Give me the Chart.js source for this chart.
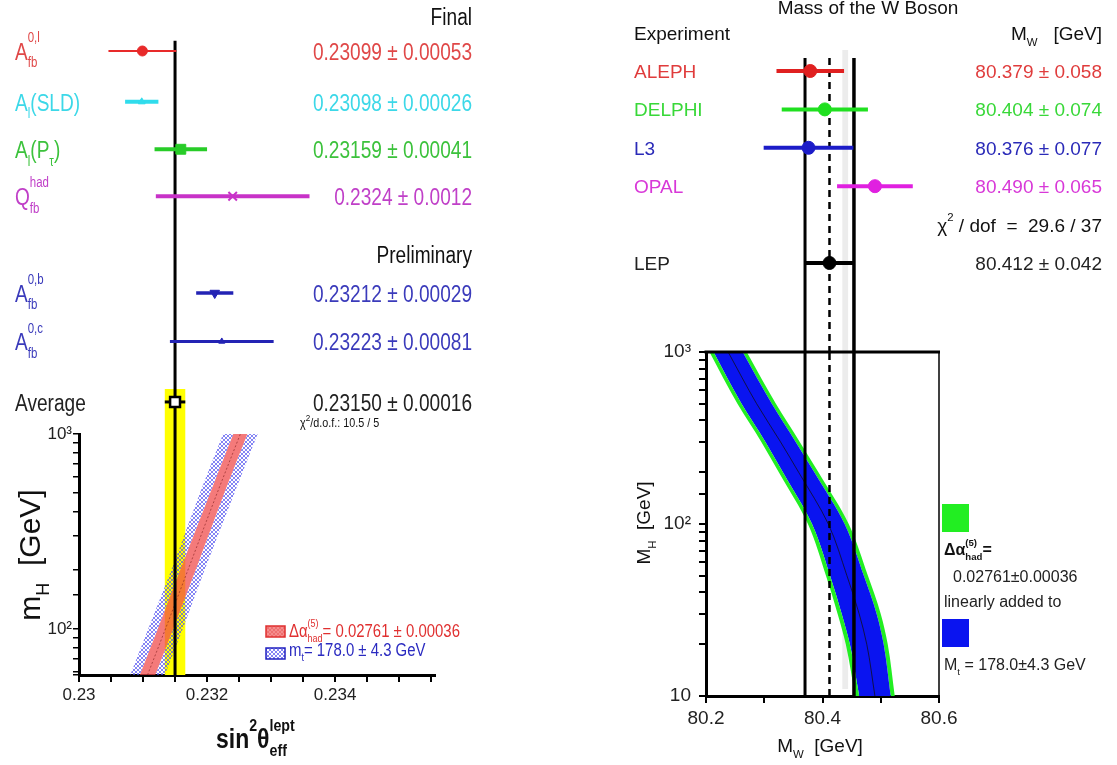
<!DOCTYPE html>
<html>
<head>
<meta charset="utf-8">
<title>sin2theta_eff and W mass</title>
<script src="https://cdn.jsdelivr.net/npm/chart.js@4/dist/chart.umd.min.js"></script>
<style>
  html, body { margin: 0; padding: 0; background: #fff; }
  #page { position: relative; width: 1117px; height: 765px; overflow: hidden; }
  #page canvas { position: absolute; }
</style>
</head>
<body>
<div id="page">
  <canvas id="sinTop" width="480" height="434" style="left:0px;top:0px"></canvas>
  <canvas id="sinBand" width="480" height="365" style="left:0px;top:400px"></canvas>
  <canvas id="mwTop" width="517" height="352" style="left:600px;top:0px"></canvas>
  <canvas id="mwBand" width="517" height="435" style="left:600px;top:330px"></canvas>
</div>
<script>
// --- sin^2 theta_eff^lept measurements ---
const sinLabels = ['A_{fb}^{0,l}', 'A_{l}(SLD)', 'A_{l}(P_{τ})', 'Q_{fb}^{had}', 'A_{fb}^{0,b}', 'A_{fb}^{0,c}', 'Average'];
const sinValues = [0.23099, 0.23098, 0.23159, 0.2324, 0.23212, 0.23223, 0.23150];
const sinErrors = [0.00053, 0.00026, 0.00041, 0.0012, 0.00029, 0.00081, 0.00016];
const sinDigits = [5, 5, 5, 4, 5, 5, 5];
const sinChi2 = [10.5, 5];
const sinTicks = [0.23, 0.232, 0.234];

// SM prediction band, m_H vs sin^2 theta
const bandMh = [58, 100, 200, 500, 1000];
const bandSin = [0.23107, 0.23135, 0.23170, 0.23216, 0.23252];
const bandAlphaHalf = [0.00012, 0.00012, 0.00012, 0.00011, 0.00011];
const bandTopHalf = [0.00027, 0.00027, 0.00026, 0.00027, 0.00027];
const deltaAlpha = [0.02761, 0.00036];
const mTop = [178.0, 4.3];

// --- W mass ---
const mwLabels = ['ALEPH', 'DELPHI', 'L3', 'OPAL', 'LEP'];
const mwValues = [80.379, 80.404, 80.376, 80.490, 80.412];
const mwErrors = [0.058, 0.074, 0.077, 0.065, 0.042];
const mwChi2 = [29.6, 37];
const mwTicks = [80.2, 80.4, 80.6];
const mwShade = [80.434, 80.444];

const mwBandMh = [10, 20, 30, 50, 100, 200, 300, 500, 1000];
const mwBandCenter = [80.490, 80.476, 80.463, 80.442, 80.410, 80.359, 80.328, 80.287, 80.238];
const mwBandBlueHalf = [0.027, 0.029, 0.030, 0.029, 0.028, 0.027, 0.026, 0.026, 0.025];
const mwBandGreenHalf = [0.034, 0.036, 0.037, 0.036, 0.035, 0.034, 0.033, 0.033, 0.032];

// --- styles / layout ---
const FL = '"Liberation Sans", Arial, sans-serif';
const FR = '"Liberation Sans", Arial, sans-serif';
const NARROW = 0.83;
const sinColors = ['#e82a2a', '#30dcec', '#28cc28', '#c832c8', '#2323b4', '#2323b4', '#000000'];
const sinText = ['#e04848', '#3cd8e8', '#3cc23c', '#c040c8', '#3b3bbb', '#3b3bbb', '#222222'];
const sinBarW = [2, 4, 4, 4, 3.5, 3, 3];
const mwColors = ['#e02020', '#20e020', '#1c1cc8', '#e020e0', '#000000'];
const mwText = ['#e03c3c', '#38d838', '#2a2ab8', '#d838d8', '#222222'];
const MW_GREEN = '#22ee22';
const MW_BLUE = '#0a14f0';

const L = { rows: [1, 2.05, 3.03, 4, 6, 7, 8.25], rowMin: -0.0535, rowMax: 8.912, lineTopRow: 0.79, bandTopRow: 7.98 };
const R = { rows: [1, 2, 3, 4, 6], chiRow: 5, rowMin: -0.849, rowMax: 8.318, lineTopRow: 0.66, shadeTopRow: 0.45 };

// --- rich text (sub/superscripts) ---
function parseRich(s) {
  const parts = []; let buf = ''; let i = 0;
  while (i < s.length) {
    const c = s[i];
    if ((c === '_' || c === '^') && s[i + 1] === '{') {
      if (buf) { parts.push({ t: buf, m: 'n' }); buf = ''; }
      const j = s.indexOf('}', i);
      parts.push({ t: s.slice(i + 2, j), m: c === '_' ? 'sub' : 'sup' });
      i = j + 1;
    } else { buf += c; i++; }
  }
  if (buf) parts.push({ t: buf, m: 'n' });
  return parts;
}

function drawRich(ctx, s, x, y, o) {
  const size = o.size, scr = o.scr || 0.6, sx = o.sx || 1;
  const supDy = (o.supDy !== undefined ? o.supDy : -0.62) * size;
  const subDy = (o.subDy !== undefined ? o.subDy : 0.3) * size;
  const items = []; let cx = 0; let prev = null;
  ctx.save();
  for (const p of parseRich(s)) {
    const fs = p.m === 'n' ? size : size * scr;
    const font = `${o.weight || 'normal'} ${fs}px ${o.family}`;
    ctx.font = font;
    const w = ctx.measureText(p.t).width * sx;
    let px = cx;
    let stacked = false;
    if (prev && prev.m !== 'n' && p.m !== 'n' && prev.m !== p.m && !prev.stacked) {
      px = prev.x; stacked = true; cx = Math.max(prev.x + prev.w, px + w);
    } else { cx = px + w; }
    const it = { t: p.t, m: p.m, x: px, w, font, stacked, dy: p.m === 'sub' ? subDy : p.m === 'sup' ? supDy : 0 };
    items.push(it); prev = it;
  }
  let x0 = x;
  if (o.align === 'right') x0 = x - cx; else if (o.align === 'center') x0 = x - cx / 2;
  ctx.fillStyle = o.color || '#000';
  ctx.textAlign = 'left'; ctx.textBaseline = 'alphabetic';
  for (const it of items) {
    ctx.save();
    ctx.translate(x0 + it.x, y + it.dy); ctx.scale(sx, 1);
    ctx.font = it.font; ctx.fillText(it.t, 0, 0);
    ctx.restore();
  }
  ctx.restore();
}

function makeHatch(line, bg) {
  const c = document.createElement('canvas'); c.width = 4; c.height = 4;
  const g = c.getContext('2d');
  if (bg) { g.fillStyle = bg; g.fillRect(0, 0, 4, 4); }
  g.strokeStyle = line; g.lineWidth = 1;
  g.beginPath(); g.moveTo(0, 0); g.lineTo(4, 4); g.moveTo(4, 0); g.lineTo(0, 4); g.stroke();
  return g.createPattern(c, 'repeat');
}
const hatchBlue = makeHatch('rgba(80,80,240,0.7)', null);
const hatchRed = makeHatch('rgba(225,60,60,0.35)', 'rgba(240,80,80,0.65)');

function vSeg(x, y0, y1, o) {
  return Object.assign({ data: [{ x, y: y0 }, { x, y: y1 }], borderColor: '#000', borderWidth: 3, pointRadius: 0, fill: false }, o);
}
function edge(xs, ys, o) {
  return Object.assign({ data: xs.map((x, i) => ({ x, y: ys[i] })), borderColor: 'rgba(0,0,0,0)', borderWidth: 1, pointRadius: 0, fill: false, cubicInterpolationMode: 'monotone' }, o);
}
const noPlugins = { legend: { display: false }, tooltip: { enabled: false } };

function rowOptions(xmin, xmax, ymin, ymax, left, right) {
  return {
    responsive: false, animation: false, indexAxis: 'y',
    layout: { autoPadding: false, padding: { left, right, top: 0, bottom: 0 } },
    scales: {
      x: { type: 'linear', min: xmin, max: xmax, display: false },
      y: { type: 'linear', min: ymin, max: ymax, reverse: true, display: false }
    },
    plugins: noPlugins
  };
}

function pickTick(list, v) {
  const t = list.find(t => Math.abs(t - v) < 1e-7);
  return t === undefined ? '' : String(t);
}
function powLabel(v) {
  if (Math.abs(v - 10) < 1e-6) return '10';
  if (Math.abs(v - 100) < 1e-6) return '10²';
  if (Math.abs(v - 1000) < 1e-6) return '10³';
  return '';
}

// ===== left: sin^2 theta measurements =====
const sinAvg = sinValues[6], sinAvgErr = sinErrors[6];

const sinTopText = {
  id: 'sinTopText',
  afterDraw(chart) {
    const ctx = chart.ctx, ys = chart.scales.y;
    const base = { size: 23, family: FL, color: '#111', sx: NARROW };
    drawRich(ctx, 'Final', 472, 25, Object.assign({}, base, { align: 'right' }));
    drawRich(ctx, 'Preliminary', 472, 263, Object.assign({}, base, { align: 'right' }));
    sinLabels.forEach((lab, i) => {
      const y = ys.getPixelForValue(L.rows[i]) + 9;
      drawRich(ctx, lab, 15, y, Object.assign({}, base, { color: sinText[i], supDy: -0.78, subDy: 0.32 }));
      const d = sinDigits[i];
      drawRich(ctx, `${sinValues[i].toFixed(d)} ± ${sinErrors[i].toFixed(d)}`, 472, y, Object.assign({}, base, { color: sinText[i], align: 'right' }));
    });
    drawRich(ctx, `χ^{2}/d.o.f.: ${sinChi2[0]} / ${sinChi2[1]}`, 300, 427, { size: 13, family: FL, color: '#111', supDy: -0.5, scr: 0.75, sx: NARROW });
  }
};

new Chart(document.getElementById('sinTop'), {
  type: 'line',
  data: {
    datasets: [
      vSeg(sinAvg - sinAvgErr, L.bandTopRow, L.rowMax, { borderColor: 'rgba(0,0,0,0)', borderWidth: 1, fill: '+1', backgroundColor: '#ffff00', order: 20 }),
      vSeg(sinAvg + sinAvgErr, L.bandTopRow, L.rowMax, { borderColor: 'rgba(0,0,0,0)', borderWidth: 1, order: 20 }),
      vSeg(sinAvg, L.lineTopRow, L.rowMax, { borderWidth: 3, order: 2 }),
      ...sinValues.map((v, i) => ({
        data: [{ x: v - sinErrors[i], y: L.rows[i] }, { x: v + sinErrors[i], y: L.rows[i] }],
        borderColor: sinColors[i], borderWidth: sinBarW[i], pointRadius: 0, fill: false, order: 1
      })),
      {
        data: sinValues.map((v, i) => ({ x: v, y: L.rows[i] })),
        showLine: false,
        pointStyle: ['circle', 'triangle', 'rect', 'crossRot', 'triangle', 'triangle', 'rect'],
        pointRadius: [5, 4, 7, 6, 5.5, 3.5, 7],
        pointRotation: [0, 0, 0, 0, 180, 0, 0],
        pointBackgroundColor: sinColors.map((c, i) => i === 6 ? '#ffffff' : c),
        pointBorderColor: sinColors,
        pointBorderWidth: [1, 1, 1, 2, 1, 1, 2.5],
        order: 0
      }
    ]
  },
  options: rowOptions(0.23, 0.23556, L.rowMin, L.rowMax, 79, 45),
  plugins: [sinTopText]
});

// ===== left: m_H vs sin^2 theta band =====
const sinEdges = [
  bandSin.map((c, i) => c - bandTopHalf[i]),
  bandSin.map((c, i) => c - bandAlphaHalf[i]),
  bandSin.map((c, i) => c + bandAlphaHalf[i]),
  bandSin.map((c, i) => c + bandTopHalf[i])
];

function legendBox(ctx, x, y, w, h, fill, stroke) {
  ctx.save();
  ctx.fillStyle = fill; ctx.fillRect(x, y, w, h);
  ctx.strokeStyle = stroke; ctx.lineWidth = 1.5; ctx.strokeRect(x, y, w, h);
  ctx.restore();
}

const sinBandText = {
  id: 'sinBandText',
  afterDraw(chart) {
    const ctx = chart.ctx;
    drawRich(ctx, 'sin^{2}θ_{eff}^{lept}', 216, 348, { size: 28, family: FL, weight: 'bold', color: '#111', supDy: -0.6, subDy: 0.3, scr: 0.62, sx: 0.82 });
    ctx.save(); ctx.translate(40, 155); ctx.rotate(-Math.PI / 2);
    drawRich(ctx, 'm_{H}  [GeV]', 0, 0, { size: 30, family: FR, color: '#111', align: 'center', subDy: 0.3 });
    ctx.restore();
    legendBox(ctx, 266, 226, 19, 11, hatchRed, '#e03030');
    drawRich(ctx, `Δα_{had}^{(5)}= ${deltaAlpha[0].toFixed(5)} ± ${deltaAlpha[1].toFixed(5)}`, 289, 237, { size: 18, family: FL, color: '#e03030', supDy: -0.55, sx: NARROW });
    legendBox(ctx, 266, 248, 19, 11, hatchBlue, '#2020c0');
    drawRich(ctx, `m_{t}= ${mTop[0].toFixed(1)} ± ${mTop[1].toFixed(1)} GeV`, 289, 256, { size: 18, family: FL, color: '#2a2ac0', sx: NARROW });
  }
};

new Chart(document.getElementById('sinBand'), {
  type: 'line',
  data: {
    datasets: [
      vSeg(sinAvg - sinAvgErr, bandMh[0], 1000, { borderColor: 'rgba(0,0,0,0)', borderWidth: 1, fill: '+1', backgroundColor: '#ffff00', order: 20 }),
      vSeg(sinAvg + sinAvgErr, bandMh[0], 1000, { borderColor: 'rgba(0,0,0,0)', borderWidth: 1, order: 20 }),
      edge(sinEdges[0], bandMh, { fill: '+1', backgroundColor: hatchBlue, order: 10 }),
      edge(sinEdges[1], bandMh, { fill: '+1', backgroundColor: 'rgba(240,70,70,0.72)', order: 10 }),
      edge(sinEdges[2], bandMh, { fill: '+1', backgroundColor: hatchBlue, order: 10 }),
      edge(sinEdges[3], bandMh, { order: 10 }),
      edge(bandSin, bandMh, { borderColor: 'rgba(130,30,30,0.6)', borderWidth: 1, borderDash: [2, 2], order: 5 }),
      vSeg(sinAvg, bandMh[0], 1000, { borderWidth: 3, order: 2 })
    ]
  },
  options: {
    responsive: false, animation: false, indexAxis: 'y',
    layout: { autoPadding: false, padding: { left: 0, right: 45, top: 34, bottom: 0 } },
    scales: {
      x: {
        type: 'linear', min: 0.23, max: 0.23556,
        border: { display: true, color: '#000', width: 3 },
        grid: { drawOnChartArea: false, drawTicks: true, tickLength: 7, color: '#000', lineWidth: 2 },
        ticks: { stepSize: 0.0005, includeBounds: false, autoSkip: false, maxRotation: 0, padding: 3, color: '#222', font: { family: FL, size: 17 }, callback: v => pickTick(sinTicks, v) },
        afterFit: s => { s.height = 90; }
      },
      y: {
        type: 'logarithmic', min: bandMh[0], max: 1000,
        border: { display: true, color: '#000', width: 3 },
        grid: { drawOnChartArea: false, drawTicks: true, tickLength: 6, color: '#000', lineWidth: 1.5 },
        ticks: { autoSkip: false, padding: 1, color: '#222', font: { family: FL, size: 17 }, callback: v => powLabel(v) },
        afterFit: s => { s.width = 79; }
      }
    },
    plugins: noPlugins
  },
  plugins: [sinBandText]
});

// ===== right: W mass measurements =====
const mwAvg = mwValues[4], mwAvgErr = mwErrors[4];

const mwTopText = {
  id: 'mwTopText',
  afterDraw(chart) {
    const ctx = chart.ctx, ys = chart.scales.y;
    const base = { size: 19, family: FR, color: '#111' };
    drawRich(ctx, 'Mass of the W Boson', 268, 14, Object.assign({}, base, { align: 'center' }));
    drawRich(ctx, 'Experiment', 34, 40, base);
    drawRich(ctx, 'M_{W}   [GeV]', 502, 40, Object.assign({}, base, { align: 'right' }));
    mwLabels.forEach((lab, i) => {
      const y = ys.getPixelForValue(R.rows[i]) + 7;
      drawRich(ctx, lab, 34, y, Object.assign({}, base, { color: mwText[i] }));
      drawRich(ctx, `${mwValues[i].toFixed(3)} ± ${mwErrors[i].toFixed(3)}`, 502, y, Object.assign({}, base, { color: mwText[i], align: 'right' }));
    });
    drawRich(ctx, `χ^{2} / dof  =  ${mwChi2[0]} / ${mwChi2[1]}`, 502, ys.getPixelForValue(R.chiRow) + 7, Object.assign({}, base, { align: 'right', supDy: -0.55 }));
  }
};

new Chart(document.getElementById('mwTop'), {
  type: 'line',
  data: {
    datasets: [
      vSeg(mwShade[0], R.shadeTopRow, R.rowMax, { borderColor: 'rgba(0,0,0,0)', borderWidth: 1, fill: '+1', backgroundColor: '#ececec', order: 20 }),
      vSeg(mwShade[1], R.shadeTopRow, R.rowMax, { borderColor: 'rgba(0,0,0,0)', borderWidth: 1, order: 20 }),
      vSeg(mwAvg - mwAvgErr, R.lineTopRow, R.rowMax, { borderWidth: 3, order: 2 }),
      vSeg(mwAvg + mwAvgErr, R.lineTopRow, R.rowMax, { borderWidth: 3.5, order: 2 }),
      vSeg(mwAvg, R.lineTopRow, R.rowMax, { borderWidth: 2.5, borderDash: [7, 5], order: 2 }),
      ...mwValues.map((v, i) => ({
        data: [{ x: v - mwErrors[i], y: R.rows[i] }, { x: v + mwErrors[i], y: R.rows[i] }],
        borderColor: mwColors[i], borderWidth: 4, pointRadius: 0, fill: false, order: 1
      })),
      {
        data: mwValues.map((v, i) => ({ x: v, y: R.rows[i] })),
        showLine: false, pointStyle: 'circle', pointRadius: 6.5,
        pointBackgroundColor: mwColors, pointBorderColor: mwColors, order: 0
      }
    ]
  },
  options: rowOptions(80.2, 80.6, R.rowMin, R.rowMax, 106, 178),
  plugins: [mwTopText]
});

// ===== right: m_H vs M_W band =====
const mwEdges = [
  mwBandCenter.map((c, i) => c - mwBandGreenHalf[i]),
  mwBandCenter.map((c, i) => c - mwBandBlueHalf[i]),
  mwBandCenter.map((c, i) => c + mwBandBlueHalf[i]),
  mwBandCenter.map((c, i) => c + mwBandGreenHalf[i])
];

const mwBandText = {
  id: 'mwBandText',
  afterDraw(chart) {
    const ctx = chart.ctx, a = chart.chartArea;
    ctx.save();
    ctx.strokeStyle = '#000';
    ctx.lineWidth = 3; ctx.beginPath(); ctx.moveTo(a.left - 1.5, a.top); ctx.lineTo(a.right + 1, a.top); ctx.stroke();
    ctx.lineWidth = 1.5; ctx.beginPath(); ctx.moveTo(a.right, a.top); ctx.lineTo(a.right, a.bottom); ctx.stroke();
    ctx.restore();
    drawRich(ctx, 'M_{W}  [GeV]', 220, 422, { size: 19, family: FR, color: '#111', align: 'center' });
    ctx.save(); ctx.translate(50, 193); ctx.rotate(-Math.PI / 2);
    drawRich(ctx, 'M_{H}  [GeV]', 0, 0, { size: 19, family: FR, color: '#111', align: 'center' });
    ctx.restore();
    ctx.fillStyle = MW_GREEN; ctx.fillRect(342, 174, 27, 28);
    drawRich(ctx, 'Δα_{had}^{(5)}=', 344, 225, { size: 16, family: FR, weight: 'bold', color: '#111', supDy: -0.55 });
    drawRich(ctx, `${deltaAlpha[0].toFixed(5)}±${deltaAlpha[1].toFixed(5)}`, 353, 252, { size: 16, family: FR, color: '#222' });
    drawRich(ctx, 'linearly added to', 344, 277, { size: 16, family: FR, color: '#222' });
    ctx.fillStyle = MW_BLUE; ctx.fillRect(342, 289, 27, 28);
    drawRich(ctx, `M_{t} = ${mTop[0].toFixed(1)}±${mTop[1].toFixed(1)} GeV`, 344, 340, { size: 16, family: FR, color: '#222' });
  }
};

new Chart(document.getElementById('mwBand'), {
  type: 'line',
  data: {
    datasets: [
      vSeg(mwShade[0], 11, 1000, { borderColor: 'rgba(0,0,0,0)', borderWidth: 1, fill: '+1', backgroundColor: '#ececec', order: 20 }),
      vSeg(mwShade[1], 11, 1000, { borderColor: 'rgba(0,0,0,0)', borderWidth: 1, order: 20 }),
      edge(mwEdges[0], mwBandMh, { fill: '+1', backgroundColor: MW_GREEN, order: 10 }),
      edge(mwEdges[1], mwBandMh, { fill: '+1', backgroundColor: MW_BLUE, order: 10 }),
      edge(mwEdges[2], mwBandMh, { fill: '+1', backgroundColor: MW_GREEN, order: 10 }),
      edge(mwEdges[3], mwBandMh, { order: 10 }),
      edge(mwBandCenter, mwBandMh, { borderColor: '#10104a', borderWidth: 1, order: 5 }),
      vSeg(mwAvg - mwAvgErr, 10, 1000, { borderWidth: 3, order: 2 }),
      vSeg(mwAvg + mwAvgErr, 10, 1000, { borderWidth: 3.5, order: 2 }),
      vSeg(mwAvg, 10, 1000, { borderWidth: 2.5, borderDash: [7, 5], order: 2 })
    ]
  },
  options: {
    responsive: false, animation: false, indexAxis: 'y',
    layout: { autoPadding: false, padding: { left: 0, right: 178, top: 22, bottom: 0 } },
    scales: {
      x: {
        type: 'linear', min: 80.2, max: 80.6,
        border: { display: true, color: '#000', width: 3 },
        grid: { drawOnChartArea: false, drawTicks: true, tickLength: 7, color: '#000', lineWidth: 2 },
        ticks: { stepSize: 0.1, autoSkip: false, maxRotation: 0, padding: 4, color: '#222', font: { family: FR, size: 19 }, callback: v => pickTick(mwTicks, v) },
        afterFit: s => { s.height = 69; }
      },
      y: {
        type: 'logarithmic', min: 10, max: 1000,
        border: { display: true, color: '#000', width: 3 },
        grid: { drawOnChartArea: false, drawTicks: true, tickLength: 7, color: '#000', lineWidth: 2 },
        ticks: { autoSkip: false, padding: 8, color: '#222', font: { family: FR, size: 19 }, callback: v => powLabel(v) },
        afterFit: s => { s.width = 106; }
      }
    },
    plugins: noPlugins
  },
  plugins: [mwBandText]
});
</script>
</body>
</html>
